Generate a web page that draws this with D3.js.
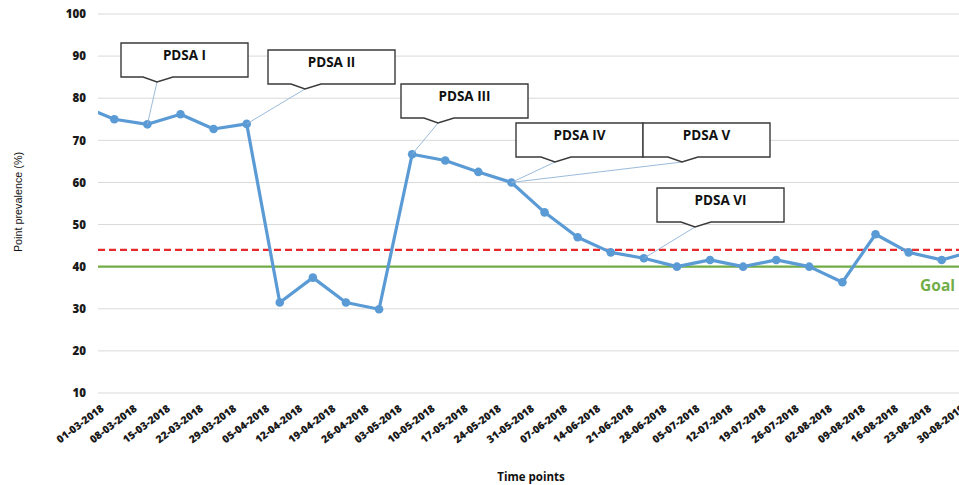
<!DOCTYPE html>
<html>
<head>
<meta charset="utf-8">
<script src="https://cdn.jsdelivr.net/npm/d3@7"></script>
<style>
  html, body { margin: 0; padding: 0; background: #fff; }
  svg { display: block; }
</style>
</head>
<body>
<svg id="chart" width="959" height="485"></svg>
<script>
// ---------------- data ----------------
const dates = ["01-03-2018","08-03-2018","15-03-2018","22-03-2018","29-03-2018",
  "05-04-2018","12-04-2018","19-04-2018","26-04-2018","03-05-2018","10-05-2018",
  "17-05-2018","24-05-2018","31-05-2018","07-06-2018","14-06-2018","21-06-2018",
  "28-06-2018","05-07-2018","12-07-2018","19-07-2018","26-07-2018","02-08-2018",
  "09-08-2018","16-08-2018","23-08-2018","30-08-2018","06-09-2018"];
const tickLabels = ["01-03-2018","08-03-2018","15-03-2018","22-03-2018","29-03-2018",
  "05-04-2018","12-04-2018","19-04-2018","26-04-2018","03-05-2018","10-05-2018",
  "17-05-2018","24-05-2018","31-05-2018","07-06-2018","14-06-2018","21-06-2018",
  "28-06-2018","05-07-2018","12-07-2018","19-07-2018","26-07-2018","02-08-2018",
  "09-08-2018","16-08-2018","23-08-2018","30-08-2019"];
const prevalence = [78.3,75.0,73.8,76.2,72.7,73.9,31.5,37.4,31.5,29.9,66.7,65.2,62.5,60.0,
  52.9,47.0,43.4,42.0,40.0,41.6,40.0,41.6,40.0,36.3,47.7,43.4,41.6,43.8];
const yTicks = [10,20,30,40,50,60,70,80,90,100];
const meanLine = 44;
const goalLine = 40;
const pdsaLabels = ["PDSA I","PDSA II","PDSA III","PDSA IV","PDSA V","PDSA VI"];
const pdsaDates  = ["15-03-2018","05-04-2018","10-05-2018","31-05-2018","31-05-2018","28-06-2018"];

// ---------------- layout ----------------
const W = 959, H = 485;
const plotLeft = 98, plotRight = 959, plotTop = 14, plotBottom = 393;
const boxLayout = [ // left, top, notch tip offset
  [121, 43, 36], [268, 50, 37], [401, 84, 37], [516, 123, 39], [643, 123, 39], [657, 188, 38]
];
const boxW = 127, boxH = 34;

const svg = d3.select("#chart");

const x = d3.scalePoint().domain(dates).range([81.2, 974.8]);
const y = d3.scaleLinear().domain([10, 100]).range([plotBottom, plotTop]);

const labelFont = "'Open Sans', 'DejaVu Sans', sans-serif";

// gridlines
svg.append("g").selectAll("line").data(yTicks).join("line")
  .attr("x1", plotLeft).attr("x2", plotRight)
  .attr("y1", d => y(d)).attr("y2", d => y(d))
  .attr("stroke", "#d9d9d9").attr("stroke-width", 1);

// y axis labels
const yAxis = d3.axisLeft(y).tickValues(yTicks).tickSize(0).tickPadding(0);
const yg = svg.append("g").attr("transform", `translate(${plotLeft - 12},0)`).call(yAxis);
yg.select(".domain").remove();
yg.selectAll("text").attr("font-family", labelFont).attr("font-weight", 800)
  .attr("font-size", 11.5).attr("fill", "#1a1a1a");

// x axis labels
const xAxis = d3.axisBottom(x).tickValues(tickLabels.map((t, i) => dates[i]))
  .tickFormat((d, i) => tickLabels[i]).tickSize(0).tickPadding(0);
const xg = svg.append("g").attr("transform", `translate(0,${plotBottom})`).call(xAxis);
xg.select(".domain").remove();
xg.selectAll("text")
  .attr("font-family", labelFont).attr("font-weight", 800).attr("font-size", 10.5)
  .attr("fill", "#1a1a1a")
  .attr("text-anchor", "end")
  .attr("dy", 0).attr("y", 0)
  .attr("transform", "translate(23,17) rotate(-37)");

// reference lines
svg.append("line")
  .attr("x1", plotLeft).attr("x2", plotRight)
  .attr("y1", y(goalLine)).attr("y2", y(goalLine))
  .attr("stroke", "#70ad47").attr("stroke-width", 2.2);
svg.append("line")
  .attr("x1", plotLeft).attr("x2", plotRight)
  .attr("y1", y(meanLine)).attr("y2", y(meanLine))
  .attr("stroke", "#e8292b").attr("stroke-width", 2.2)
  .attr("stroke-dasharray", "7,4");

// clip
svg.append("clipPath").attr("id", "plotclip").append("rect")
  .attr("x", plotLeft).attr("y", 0).attr("width", plotRight - plotLeft).attr("height", H);

const series = dates.map((d, i) => ({ d, v: prevalence[i] }));
const g = svg.append("g").attr("clip-path", "url(#plotclip)");
g.append("path").datum(series)
  .attr("fill", "none").attr("stroke", "#5b9bd5").attr("stroke-width", 3.2)
  .attr("stroke-linejoin", "round")
  .attr("d", d3.line().x(p => x(p.d)).y(p => y(p.v)));
g.selectAll("circle").data(series).join("circle")
  .attr("cx", p => x(p.d)).attr("cy", p => y(p.v)).attr("r", 4.3)
  .attr("fill", "#5b9bd5");

// Goal text
svg.append("text").attr("x", 955).attr("y", 291).attr("text-anchor", "end")
  .attr("font-family", labelFont).attr("font-weight", 700).attr("font-size", 15.5)
  .attr("fill", "#70ad47").text("Goal");

// callouts
pdsaLabels.forEach((lab, i) => {
  const [bx, by, tip] = boxLayout[i];
  const tx = bx + tip, ty = by + boxH + 5;
  const px = x(pdsaDates[i]), py = y(prevalence[dates.indexOf(pdsaDates[i])]);
  svg.append("line").attr("x1", tx).attr("y1", ty).attr("x2", px).attr("y2", py)
    .attr("stroke", "#8fb3d6").attr("stroke-width", 0.9);
  const p = d3.path();
  p.moveTo(bx, by); p.lineTo(bx + boxW, by); p.lineTo(bx + boxW, by + boxH);
  p.lineTo(tx + 16, by + boxH); p.lineTo(tx, ty); p.lineTo(tx - 14, by + boxH);
  p.lineTo(bx, by + boxH); p.closePath();
  svg.append("path").attr("d", p.toString()).attr("fill", "#fff")
    .attr("stroke", "#3a3a3a").attr("stroke-width", 1.4);
  svg.append("text").attr("x", bx + boxW / 2).attr("y", by + 17)
    .attr("text-anchor", "middle").attr("font-family", labelFont)
    .attr("font-weight", 700).attr("font-size", 13.5).attr("fill", "#111").text(lab);
});

// axis titles
svg.append("text").attr("transform", `translate(22,202) rotate(-90)`)
  .attr("text-anchor", "middle").attr("font-family", "'Liberation Sans', Arial, sans-serif")
  .attr("font-size", 10.8).attr("fill", "#111").text("Point prevalence (%)");
svg.append("text").attr("x", 531).attr("y", 481).attr("text-anchor", "middle")
  .attr("font-family", labelFont).attr("font-weight", 700).attr("font-size", 11.5)
  .attr("fill", "#111").text("Time points");
</script>
</body>
</html>
